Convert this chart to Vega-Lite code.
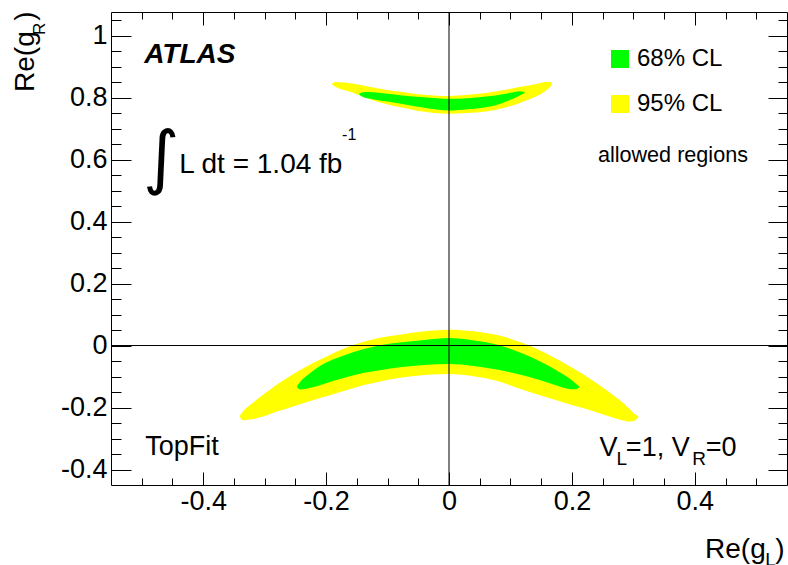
{
  "$schema": "https://vega.github.io/schema/vega-lite/v6.json",
  "width": 676,
  "height": 473,
  "autosize": "none",
  "padding": {"left": 111, "top": 12, "right": 1, "bottom": 80},
  "background": "white",
  "config": {
    "font": "Liberation Sans",
    "view": {"stroke": "black", "strokeWidth": 1},
    "axis": {"grid": false, "domain": false, "tickColor": "black", "tickWidth": 1, "labelColor": "black", "labelFont": "Liberation Sans", "labelFontSize": 27}
  },
  "datasets": {
    "regions": [
      {"band": "low", "cl": "95% CL", "x": -0.340, "lo": -0.232, "hi": -0.226},
      {"band": "low", "cl": "95% CL", "x": -0.335, "lo": -0.241, "hi": -0.212},
      {"band": "low", "cl": "95% CL", "x": -0.320, "lo": -0.237, "hi": -0.186},
      {"band": "low", "cl": "95% CL", "x": -0.300, "lo": -0.227, "hi": -0.155},
      {"band": "low", "cl": "95% CL", "x": -0.280, "lo": -0.213, "hi": -0.126},
      {"band": "low", "cl": "95% CL", "x": -0.250, "lo": -0.194, "hi": -0.088},
      {"band": "low", "cl": "95% CL", "x": -0.220, "lo": -0.176, "hi": -0.055},
      {"band": "low", "cl": "95% CL", "x": -0.200, "lo": -0.164, "hi": -0.036},
      {"band": "low", "cl": "95% CL", "x": -0.170, "lo": -0.146, "hi": -0.009},
      {"band": "low", "cl": "95% CL", "x": -0.140, "lo": -0.128, "hi": 0.011},
      {"band": "low", "cl": "95% CL", "x": -0.110, "lo": -0.115, "hi": 0.026},
      {"band": "low", "cl": "95% CL", "x": -0.080, "lo": -0.104, "hi": 0.035},
      {"band": "low", "cl": "95% CL", "x": -0.040, "lo": -0.095, "hi": 0.046},
      {"band": "low", "cl": "95% CL", "x": 0.000, "lo": -0.092, "hi": 0.051},
      {"band": "low", "cl": "95% CL", "x": 0.040, "lo": -0.099, "hi": 0.046},
      {"band": "low", "cl": "95% CL", "x": 0.080, "lo": -0.115, "hi": 0.033},
      {"band": "low", "cl": "95% CL", "x": 0.120, "lo": -0.143, "hi": 0.008},
      {"band": "low", "cl": "95% CL", "x": 0.160, "lo": -0.168, "hi": -0.027},
      {"band": "low", "cl": "95% CL", "x": 0.200, "lo": -0.192, "hi": -0.071},
      {"band": "low", "cl": "95% CL", "x": 0.230, "lo": -0.209, "hi": -0.108},
      {"band": "low", "cl": "95% CL", "x": 0.260, "lo": -0.228, "hi": -0.149},
      {"band": "low", "cl": "95% CL", "x": 0.280, "lo": -0.240, "hi": -0.180},
      {"band": "low", "cl": "95% CL", "x": 0.295, "lo": -0.245, "hi": -0.207},
      {"band": "low", "cl": "95% CL", "x": 0.303, "lo": -0.241, "hi": -0.222},
      {"band": "low", "cl": "95% CL", "x": 0.308, "lo": -0.232, "hi": -0.228},
      {"band": "high", "cl": "95% CL", "x": -0.190, "lo": 0.841, "hi": 0.846},
      {"band": "high", "cl": "95% CL", "x": -0.185, "lo": 0.835, "hi": 0.850},
      {"band": "high", "cl": "95% CL", "x": -0.157, "lo": 0.816, "hi": 0.845},
      {"band": "high", "cl": "95% CL", "x": -0.130, "lo": 0.795, "hi": 0.835},
      {"band": "high", "cl": "95% CL", "x": -0.103, "lo": 0.779, "hi": 0.825},
      {"band": "high", "cl": "95% CL", "x": -0.075, "lo": 0.767, "hi": 0.818},
      {"band": "high", "cl": "95% CL", "x": -0.049, "lo": 0.757, "hi": 0.811},
      {"band": "high", "cl": "95% CL", "x": 0.000, "lo": 0.748, "hi": 0.805},
      {"band": "high", "cl": "95% CL", "x": 0.030, "lo": 0.750, "hi": 0.809},
      {"band": "high", "cl": "95% CL", "x": 0.060, "lo": 0.755, "hi": 0.815},
      {"band": "high", "cl": "95% CL", "x": 0.090, "lo": 0.767, "hi": 0.824},
      {"band": "high", "cl": "95% CL", "x": 0.114, "lo": 0.782, "hi": 0.834},
      {"band": "high", "cl": "95% CL", "x": 0.141, "lo": 0.803, "hi": 0.843},
      {"band": "high", "cl": "95% CL", "x": 0.160, "lo": 0.826, "hi": 0.851},
      {"band": "high", "cl": "95% CL", "x": 0.167, "lo": 0.840, "hi": 0.849},
      {"band": "low", "cl": "68% CL", "x": -0.247, "lo": -0.136, "hi": -0.130},
      {"band": "low", "cl": "68% CL", "x": -0.240, "lo": -0.142, "hi": -0.112},
      {"band": "low", "cl": "68% CL", "x": -0.230, "lo": -0.139, "hi": -0.095},
      {"band": "low", "cl": "68% CL", "x": -0.210, "lo": -0.128, "hi": -0.066},
      {"band": "low", "cl": "68% CL", "x": -0.190, "lo": -0.115, "hi": -0.046},
      {"band": "low", "cl": "68% CL", "x": -0.170, "lo": -0.104, "hi": -0.031},
      {"band": "low", "cl": "68% CL", "x": -0.140, "lo": -0.089, "hi": -0.012},
      {"band": "low", "cl": "68% CL", "x": -0.110, "lo": -0.079, "hi": 0.002},
      {"band": "low", "cl": "68% CL", "x": -0.080, "lo": -0.070, "hi": 0.010},
      {"band": "low", "cl": "68% CL", "x": -0.040, "lo": -0.063, "hi": 0.018},
      {"band": "low", "cl": "68% CL", "x": 0.000, "lo": -0.060, "hi": 0.024},
      {"band": "low", "cl": "68% CL", "x": 0.040, "lo": -0.066, "hi": 0.016},
      {"band": "low", "cl": "68% CL", "x": 0.080, "lo": -0.078, "hi": 0.002},
      {"band": "low", "cl": "68% CL", "x": 0.120, "lo": -0.096, "hi": -0.026},
      {"band": "low", "cl": "68% CL", "x": 0.150, "lo": -0.113, "hi": -0.053},
      {"band": "low", "cl": "68% CL", "x": 0.180, "lo": -0.132, "hi": -0.086},
      {"band": "low", "cl": "68% CL", "x": 0.200, "lo": -0.141, "hi": -0.112},
      {"band": "low", "cl": "68% CL", "x": 0.208, "lo": -0.140, "hi": -0.126},
      {"band": "low", "cl": "68% CL", "x": 0.212, "lo": -0.135, "hi": -0.132},
      {"band": "high", "cl": "68% CL", "x": -0.146, "lo": 0.809, "hi": 0.813},
      {"band": "high", "cl": "68% CL", "x": -0.140, "lo": 0.802, "hi": 0.817},
      {"band": "high", "cl": "68% CL", "x": -0.130, "lo": 0.797, "hi": 0.818},
      {"band": "high", "cl": "68% CL", "x": -0.100, "lo": 0.787, "hi": 0.812},
      {"band": "high", "cl": "68% CL", "x": -0.076, "lo": 0.779, "hi": 0.807},
      {"band": "high", "cl": "68% CL", "x": -0.040, "lo": 0.767, "hi": 0.801},
      {"band": "high", "cl": "68% CL", "x": 0.000, "lo": 0.758, "hi": 0.796},
      {"band": "high", "cl": "68% CL", "x": 0.030, "lo": 0.762, "hi": 0.798},
      {"band": "high", "cl": "68% CL", "x": 0.060, "lo": 0.769, "hi": 0.803},
      {"band": "high", "cl": "68% CL", "x": 0.085, "lo": 0.781, "hi": 0.810},
      {"band": "high", "cl": "68% CL", "x": 0.103, "lo": 0.795, "hi": 0.816},
      {"band": "high", "cl": "68% CL", "x": 0.115, "lo": 0.807, "hi": 0.820},
      {"band": "high", "cl": "68% CL", "x": 0.123, "lo": 0.815, "hi": 0.818}
    ],
    "zero": [{"v": 0}],
    "atlas": [{"x": -0.496, "y": 0.9107, "t": "ATLAS"}],
    "main": [
      {"x": -0.4943, "y": -0.3526, "t": "TopFit"},
      {"x": 0.2447, "y": -0.3558, "t": "V"},
      {"x": 0.2878, "y": -0.3558, "t": "=1, V"},
      {"x": 0.4179, "y": -0.3558, "t": "=0"}
    ],
    "lumi": [{"x": -0.439, "y": 0.558, "t": "L dt = 1.04 fb"}],
    "subs": [
      {"x": 0.2725, "y": -0.3848, "t": "L"},
      {"x": 0.396, "y": -0.3848, "t": "R"},
      {"x": 0.5146, "y": -0.7106, "t": "L"}
    ],
    "sup": [{"x": -0.174, "y": 0.6635, "t": "-1"}],
    "note": [{"x": 0.2423, "y": 0.5935, "t": "allowed regions"}],
    "integral": [{"x": -0.4683, "y": 0.531, "t": "∫"}],
    "xtitle": [
      {"x": 0.5154, "y": -0.6858, "t": "Re(g"},
      {"x": 0.5459, "y": -0.6858, "t": ")"}
    ],
    "ytitle": [
      {"x": -0.6748, "y": 0.818, "t": "Re(g"},
      {"x": -0.6748, "y": 1.0474, "t": ")"}
    ],
    "ysub": [{"x": -0.657, "y": 1.002, "t": "R"}]
  },
  "resolve": {"axis": {"x": "independent", "y": "independent"}},
  "layer": [
    {
      "data": {"name": "regions"},
      "transform": [{"filter": "datum.cl == '95% CL'"}],
      "mark": {"type": "area", "interpolate": "monotone", "opacity": 1},
      "encoding": {
        "x": {"field": "x", "type": "quantitative", "scale": {"domain": [-0.55, 0.55], "nice": false, "zero": false},
          "axis": {"orient": "bottom", "values": [-0.4, -0.2, 0, 0.2, 0.4], "ticks": false, "domain": false, "title": null, "labelPadding": 3, "labelFontSize": 27, "labelOverlap": false, "labelFlush": false,
            "labelExpr": "datum.value == 0 ? '0' : (datum.value < 0 ? '-' : '') + format(abs(datum.value), '.1~f')"}},
        "y": {"field": "hi", "type": "quantitative", "scale": {"domain": [-0.45, 1.076], "nice": false, "zero": false},
          "axis": {"orient": "left", "values": [-0.4, -0.2, 0, 0.2, 0.4, 0.6, 0.8, 1], "ticks": false, "domain": false, "title": null, "labelPadding": 4, "labelFontSize": 27, "labelOverlap": false, "labelFlush": false,
            "labelExpr": "datum.value == 0 ? '0' : (datum.value < 0 ? '-' : '') + format(abs(datum.value), '.1~f')"}},
        "y2": {"field": "lo"},
        "color": {"field": "cl", "type": "nominal", "scale": {"domain": ["68% CL", "95% CL"], "range": ["#00ff00", "#ffff00"]},
          "legend": {"orient": "none", "legendX": 497, "legendY": 35, "title": null, "symbolType": "square", "symbolSize": 324, "symbolStrokeWidth": 0, "symbolOpacity": 1, "labelFontSize": 24, "labelFont": "Liberation Sans", "labelColor": "black", "labelOffset": 5, "rowPadding": 21, "padding": 0}},
        "detail": {"field": "band"}
      }
    },
    {
      "data": {"name": "regions"},
      "transform": [{"filter": "datum.cl == '68% CL'"}],
      "mark": {"type": "area", "interpolate": "monotone", "opacity": 1},
      "encoding": {
        "x": {"field": "x", "type": "quantitative", "scale": {"domain": [-0.55, 0.55], "nice": false, "zero": false},
          "axis": {"orient": "bottom", "values": [-0.4, -0.2, 0, 0.2, 0.4], "labels": false, "domain": false, "title": null, "tickSize": -13}},
        "y": {"field": "hi", "type": "quantitative", "scale": {"domain": [-0.45, 1.076], "nice": false, "zero": false},
          "axis": {"orient": "left", "values": [-0.4, -0.2, 0, 0.2, 0.4, 0.6, 0.8, 1], "labels": false, "domain": false, "title": null, "tickSize": -20}},
        "y2": {"field": "lo"},
        "color": {"field": "cl", "type": "nominal", "scale": {"domain": ["68% CL", "95% CL"], "range": ["#00ff00", "#ffff00"]},
          "legend": {"orient": "none", "legendX": 497, "legendY": 35, "title": null, "symbolType": "square", "symbolSize": 324, "symbolStrokeWidth": 0, "symbolOpacity": 1, "labelFontSize": 24, "labelFont": "Liberation Sans", "labelColor": "black", "labelOffset": 5, "rowPadding": 21, "padding": 0}},
        "detail": {"field": "band"}
      }
    },
    {
      "data": {"name": "zero"},
      "mark": {"type": "rule", "color": "black", "strokeWidth": 1},
      "encoding": {
        "x": {"field": "v", "type": "quantitative", "scale": {"domain": [-0.55, 0.55], "nice": false, "zero": false},
          "axis": {"orient": "bottom", "values": [-0.5, -0.45, -0.4, -0.35, -0.3, -0.25, -0.2, -0.15, -0.1, -0.05, 0, 0.05, 0.1, 0.15, 0.2, 0.25, 0.3, 0.35, 0.4, 0.45, 0.5], "labels": false, "domain": false, "title": null, "tickSize": -7}}
      }
    },
    {
      "data": {"name": "zero"},
      "mark": {"type": "rule", "color": "black", "strokeWidth": 1},
      "encoding": {
        "y": {"field": "v", "type": "quantitative", "scale": {"domain": [-0.45, 1.076], "nice": false, "zero": false},
          "axis": {"orient": "left", "values": [-0.4, -0.35, -0.3, -0.25, -0.2, -0.15, -0.1, -0.05, 0, 0.05, 0.1, 0.15, 0.2, 0.25, 0.3, 0.35, 0.4, 0.45, 0.5, 0.55, 0.6, 0.65, 0.7, 0.75, 0.8, 0.85, 0.9, 0.95, 1, 1.05], "labels": false, "domain": false, "title": null, "tickSize": -10}}
      }
    },
    {
      "data": {"name": "atlas"},
      "mark": {"type": "text", "fontSize": 28, "fontWeight": "bold", "fontStyle": "italic", "align": "left", "baseline": "alphabetic", "color": "black"},
      "encoding": {
        "x": {"field": "x", "type": "quantitative", "scale": {"domain": [-0.55, 0.55], "nice": false, "zero": false},
          "axis": {"orient": "top", "values": [-0.4, -0.2, 0, 0.2, 0.4], "labels": false, "domain": false, "title": null, "tickSize": -13}},
        "y": {"field": "y", "type": "quantitative", "scale": {"domain": [-0.45, 1.076], "nice": false, "zero": false},
          "axis": {"orient": "right", "values": [-0.4, -0.2, 0, 0.2, 0.4, 0.6, 0.8, 1], "labels": false, "domain": false, "title": null, "tickSize": -19}},
        "text": {"field": "t"}
      }
    },
    {
      "data": {"name": "main"},
      "mark": {"type": "text", "fontSize": 27, "align": "left", "baseline": "alphabetic", "color": "black"},
      "encoding": {
        "x": {"field": "x", "type": "quantitative", "scale": {"domain": [-0.55, 0.55], "nice": false, "zero": false},
          "axis": {"orient": "top", "values": [-0.5, -0.45, -0.4, -0.35, -0.3, -0.25, -0.2, -0.15, -0.1, -0.05, 0, 0.05, 0.1, 0.15, 0.2, 0.25, 0.3, 0.35, 0.4, 0.45, 0.5], "labels": false, "domain": false, "title": null, "tickSize": -7}},
        "y": {"field": "y", "type": "quantitative", "scale": {"domain": [-0.45, 1.076], "nice": false, "zero": false},
          "axis": {"orient": "right", "values": [-0.4, -0.35, -0.3, -0.25, -0.2, -0.15, -0.1, -0.05, 0, 0.05, 0.1, 0.15, 0.2, 0.25, 0.3, 0.35, 0.4, 0.45, 0.5, 0.55, 0.6, 0.65, 0.7, 0.75, 0.8, 0.85, 0.9, 0.95, 1, 1.05], "labels": false, "domain": false, "title": null, "tickSize": -9}},
        "text": {"field": "t"}
      }
    },
    {
      "data": {"name": "lumi"},
      "mark": {"type": "text", "fontSize": 28, "align": "left", "baseline": "alphabetic", "color": "black"},
      "encoding": {
        "x": {"field": "x", "type": "quantitative", "axis": null},
        "y": {"field": "y", "type": "quantitative", "axis": null},
        "text": {"field": "t"}
      }
    },
    {
      "data": {"name": "subs"},
      "mark": {"type": "text", "fontSize": 19, "align": "left", "baseline": "alphabetic", "color": "black"},
      "encoding": {
        "x": {"field": "x", "type": "quantitative", "axis": null},
        "y": {"field": "y", "type": "quantitative", "axis": null},
        "text": {"field": "t"}
      }
    },
    {
      "data": {"name": "sup"},
      "mark": {"type": "text", "fontSize": 16, "align": "left", "baseline": "alphabetic", "color": "black"},
      "encoding": {
        "x": {"field": "x", "type": "quantitative", "axis": null},
        "y": {"field": "y", "type": "quantitative", "axis": null},
        "text": {"field": "t"}
      }
    },
    {
      "data": {"name": "note"},
      "mark": {"type": "text", "fontSize": 21.6, "align": "left", "baseline": "alphabetic", "color": "black"},
      "encoding": {
        "x": {"field": "x", "type": "quantitative", "axis": null},
        "y": {"field": "y", "type": "quantitative", "axis": null},
        "text": {"field": "t"}
      }
    },
    {
      "data": {"name": "integral"},
      "mark": {"type": "text", "fontSize": 70, "font": "DejaVu Sans", "align": "center", "baseline": "alphabetic", "color": "black"},
      "encoding": {
        "x": {"field": "x", "type": "quantitative", "axis": null},
        "y": {"field": "y", "type": "quantitative", "axis": null},
        "text": {"field": "t"}
      }
    },
    {
      "data": {"name": "xtitle"},
      "mark": {"type": "text", "fontSize": 28, "align": "right", "baseline": "alphabetic", "color": "black"},
      "encoding": {
        "x": {"field": "x", "type": "quantitative", "axis": null},
        "y": {"field": "y", "type": "quantitative", "axis": null},
        "text": {"field": "t"}
      }
    },
    {
      "data": {"name": "ytitle"},
      "mark": {"type": "text", "fontSize": 28, "angle": 270, "align": "left", "baseline": "alphabetic", "color": "black"},
      "encoding": {
        "x": {"field": "x", "type": "quantitative", "axis": null},
        "y": {"field": "y", "type": "quantitative", "axis": null},
        "text": {"field": "t"}
      }
    },
    {
      "data": {"name": "ysub"},
      "mark": {"type": "text", "fontSize": 17, "angle": 270, "align": "left", "baseline": "alphabetic", "color": "black"},
      "encoding": {
        "x": {"field": "x", "type": "quantitative", "axis": null},
        "y": {"field": "y", "type": "quantitative", "axis": null},
        "text": {"field": "t"}
      }
    }
  ]
}
